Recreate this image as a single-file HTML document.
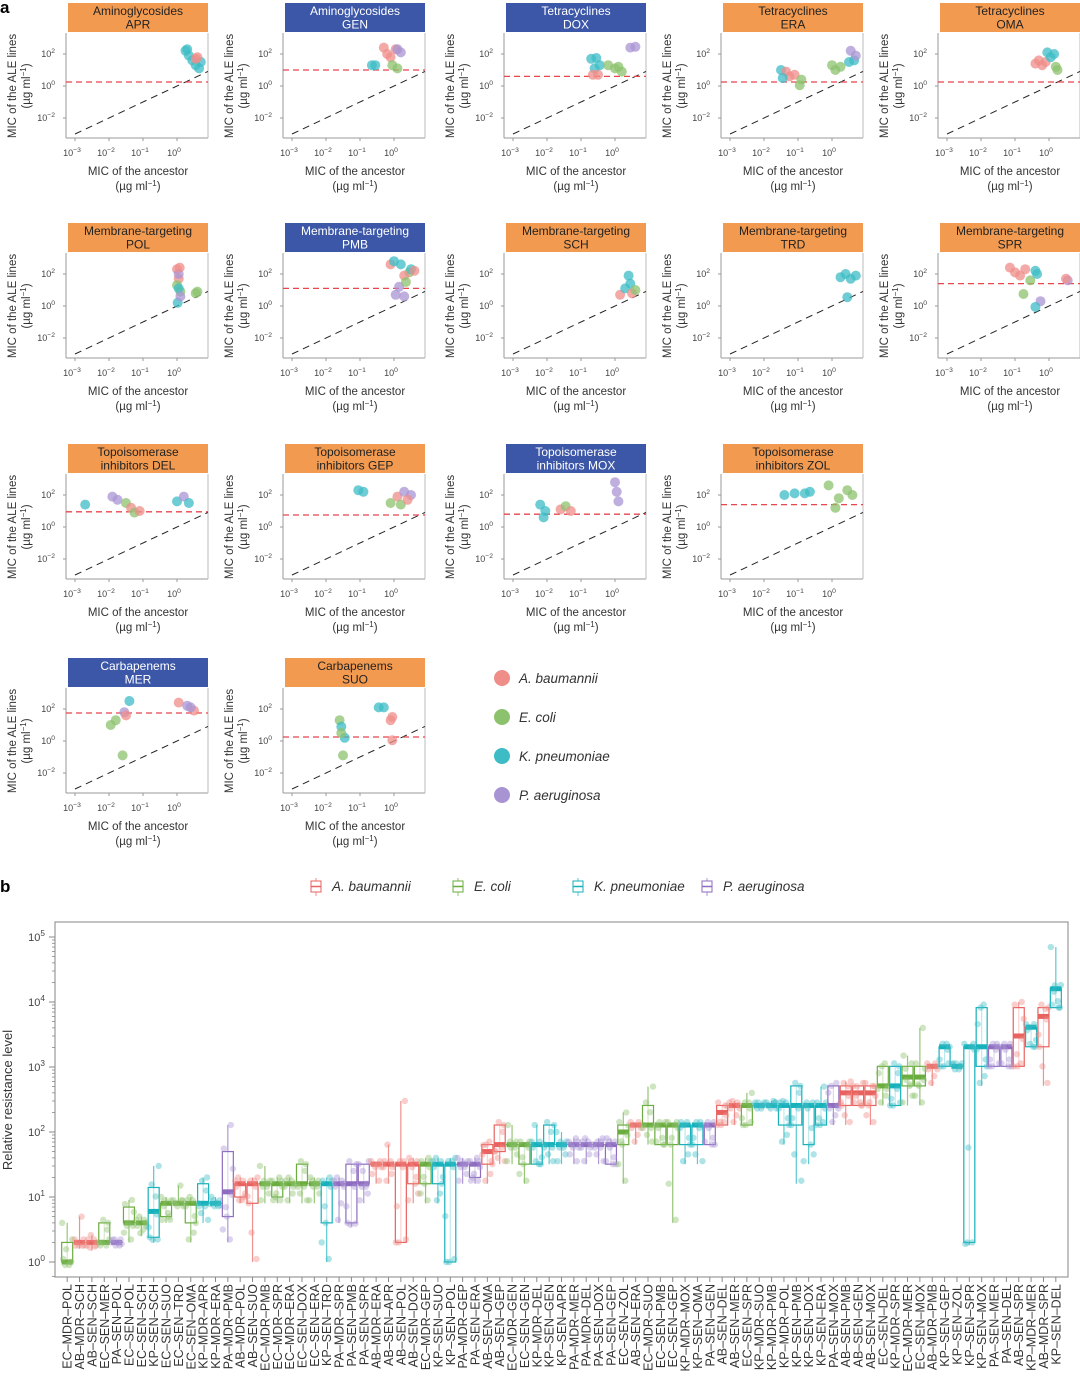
<!DOCTYPE html>
<html><head><meta charset="utf-8">
<style>
html,body{margin:0;padding:0;background:#fff;}
svg{display:block;font-family:"Liberation Sans",sans-serif;}
</style></head>
<body>
<svg id="fig" width="1080" height="1384" viewBox="0 0 1080 1384" xmlns="http://www.w3.org/2000/svg">
<text x="0" y="13" font-size="17" font-weight="bold">a</text>
<text x="0" y="892" font-size="17" font-weight="bold">b</text>
<g id="pa"></g>
<g id="pb"></g>
</svg>
<script>
// ---------- Panel a data ----------
const panelCodes = ["APR","GEN","DOX","ERA","OMA","POL","PMB","SCH","TRD","SPR","DEL","GEP","MOX","ZOL","MER","SUO"];
const panelClasses = ["Aminoglycosides","Aminoglycosides","Tetracyclines","Tetracyclines","Tetracyclines","Membrane-targeting","Membrane-targeting","Membrane-targeting","Membrane-targeting","Membrane-targeting","Topoisomerase inhibitors","Topoisomerase inhibitors","Topoisomerase inhibitors","Topoisomerase inhibitors","Carbapenems","Carbapenems"];
const panelBlue = [0,1,1,0,0,0,1,0,0,0,0,0,1,0,1,0];
const redLevels = [0.25,1.0,0.6,0.25,0.25,null,1.1,null,null,1.4,0.95,0.75,0.8,1.4,1.75,0.25];
// points per panel: [species, log10 ancestor MIC, log10 ALE MIC]; species: 0 AB,1 EC,2 KP,3 PA
const panelPoints = [
 [[2,0.25,2.2],[2,0.35,1.9],[2,0.45,1.6],[2,0.55,1.3],[2,0.65,1.1],[2,0.7,1.5],[2,0.3,2.3],[0,0.6,1.8],[0,0.55,1.7]],
 [[2,-0.65,1.3],[2,-0.55,1.3],[0,-0.3,2.4],[0,-0.2,2.0],[0,-0.1,1.8],[0,0.05,2.3],[3,0.2,2.1],[3,0.1,2.3],[1,0.1,1.1],[1,-0.05,1.3]],
 [[2,-0.7,1.7],[2,-0.55,1.75],[2,-0.45,1.3],[2,-0.6,1.1],[0,-0.65,0.7],[0,-0.5,0.7],[1,-0.2,1.3],[1,0,1.1],[1,0.2,0.9],[1,0.1,1.2],[3,0.45,2.4],[3,0.6,2.45]],
 [[2,-1.5,1.0],[0,-1.35,0.9],[0,-1.25,0.6],[2,-1.45,0.5],[0,-1.1,0.7],[1,-0.95,0.05],[1,-0.9,0.4],[1,0,1.3],[1,0.1,1.0],[1,0.25,1.2],[3,0.55,2.2],[2,0.65,1.6],[3,0.7,1.9],[2,0.5,1.5]],
 [[0,-0.4,1.4],[0,-0.3,1.6],[0,-0.2,1.3],[0,-0.1,1.5],[2,-0.05,2.1],[2,0.05,1.8],[2,0.15,2.0],[1,0.25,1.0],[1,0.2,1.2]],
 [[0,0,2.3],[0,0.05,1.7],[3,0.05,2.0],[1,0,1.3],[1,0.1,0.9],[2,0.05,1.1],[2,0.02,0.2],[3,0.1,0.6],[1,0.6,0.9],[1,0.55,0.8],[0,0.08,2.4]],
 [[0,-0.1,2.6],[2,0,2.8],[2,0.2,2.6],[1,0.45,2.1],[0,0.3,1.9],[3,0.05,0.7],[3,0.15,1.2],[1,0.35,1.5],[2,0.5,2.3],[0,0.6,2.2],[3,0.3,0.6]],
 [[0,0.15,0.7],[2,0.3,1.1],[2,0.45,1.4],[0,0.5,0.8],[1,0.6,1.0],[2,0.4,1.9]],
 [[2,0.25,1.8],[2,0.4,2.0],[2,0.55,1.7],[2,0.7,1.9],[2,0.45,0.55]],
 [[0,-1.15,2.4],[0,-1.0,2.1],[0,-0.85,1.9],[0,-0.7,2.3],[1,-0.55,1.6],[2,-0.4,2.2],[2,-0.35,2.0],[1,-0.75,0.75],[3,-0.25,0.3],[2,-0.4,-0.06],[3,0.55,1.6],[0,0.5,1.7]],
 [[2,-2.7,1.4],[3,-1.9,1.9],[3,-1.75,1.7],[1,-1.5,1.5],[0,-1.35,1.2],[1,-1.25,0.9],[0,-1.1,1.0],[2,0,1.6],[3,0.2,1.9],[2,0.35,1.5]],
 [[2,-1.05,2.3],[2,-0.9,2.2],[1,-0.1,1.5],[0,0.1,1.9],[3,0.3,2.2],[3,0.5,2.0],[1,0.2,1.4],[0,0.4,1.7]],
 [[2,-2.2,1.4],[2,-2.1,0.6],[2,-2.05,1.0],[0,-1.6,1.1],[1,-1.45,1.3],[0,-1.3,1.0],[3,0.0,2.8],[3,0.05,2.2],[3,0.1,1.6]],
 [[2,-1.4,2.0],[2,-1.1,2.1],[2,-0.8,2.1],[2,-0.65,2.2],[1,-0.1,2.6],[1,0.2,1.8],[1,0.45,2.3],[1,0.6,2.0],[1,0.1,1.2]],
 [[1,-1.95,1.0],[1,-1.8,1.3],[1,-1.6,-0.9],[3,-1.55,1.8],[2,-1.4,2.5],[0,-1.5,1.6],[0,0.05,2.4],[3,0.3,2.2],[0,0.5,1.9],[3,0.4,2.1]],
 [[1,-1.6,1.3],[2,-1.55,0.9],[1,-1.5,-0.9],[2,-1.45,0.2],[1,-1.55,0.5],[2,-0.45,2.1],[2,-0.3,2.1],[0,-0.1,1.3],[0,-0.05,1.5],[0,-0.05,0.05]]
];
const ptCol = ["#ef8d89","#8cc26d","#3dbcc6","#a994d3"];
const boxCol = ["#e8625f","#6aac3e","#16b1bb","#8e6cbf"];
const speciesNames = ["A. baumannii","E. coli","K. pneumoniae","P. aeruginosa"];

const NS="http://www.w3.org/2000/svg";
function mk(tag,attrs,parent){const e=document.createElementNS(NS,tag);for(const k in attrs)e.setAttribute(k,attrs[k]);parent.appendChild(e);return e;}
function supText(parent,x,y,base,exp,size,anchor){
  const t=mk("text",{x:x,y:y,"font-size":size,"text-anchor":anchor||"middle",fill:"#444"},parent);
  t.appendChild(document.createTextNode(base));
  const s=mk("tspan",{dy:-size*0.45,"font-size":size*0.75},t);s.textContent=exp;
  return t;
}
const pa=document.getElementById("pa");
const colX=[0,217,438,655,872], rowY=[0,220,441,655];
const gridPos=[[0,0],[0,1],[0,2],[0,3],[0,4],[1,0],[1,1],[1,2],[1,3],[1,4],[2,0],[2,1],[2,2],[2,3],[3,0],[3,1]];
panelCodes.forEach((code,i)=>{
  const ox=colX[gridPos[i][1]], oy=rowY[gridPos[i][0]];
  const g=mk("g",{transform:`translate(${ox},${oy})`},pa);
  
  
  const xs=lx=>177+34*lx, ys=ly=>86-16*ly;
  const h=mk("rect",{x:68,y:3,width:140,height:29,fill:panelBlue[i]?"#3c57a7":"#f29a4f"},g);
  
  
  const tc=panelBlue[i]?"#fff":"#222";
  let cls=panelClasses[i], l2=code;
  if(cls==="Topoisomerase inhibitors"){cls="Topoisomerase";l2="inhibitors "+code;}
  mk("text",{x:138,y:15,"font-size":12,"text-anchor":"middle",fill:tc},g).textContent=cls;
  mk("text",{x:138,y:28.5,"font-size":12,"text-anchor":"middle",fill:tc},g).textContent=l2;
  mk("line",{x1:66,y1:33,x2:66,y2:138,stroke:"#999","stroke-width":1},g);
  mk("line",{x1:66,y1:138,x2:208,y2:138,stroke:"#999","stroke-width":1},g);
  mk("line",{x1:208,y1:33,x2:208,y2:138,stroke:"#bbb","stroke-width":1},g);
  [-3,-2,-1,0].forEach(e=>{mk("line",{x1:xs(e),y1:138,x2:xs(e),y2:141,stroke:"#999"},g);supText(g,xs(e)-3,156,"10",String(e).replace("-","−"),9);});
  [2,0,-2].forEach(e=>{mk("line",{x1:63,y1:ys(e),x2:66,y2:ys(e),stroke:"#999"},g);supText(g,55,ys(e)+3,"10",String(e).replace("-","−"),9,"end");});
  const d=mk("line",{x1:xs(-3),y1:ys(-3),x2:208,y2:ys((208-177)/34),stroke:"#222","stroke-width":1,"stroke-dasharray":"7,5"},g);
  
  
  if(redLevels[i]!==null){
    const r=mk("line",{x1:66,y1:ys(redLevels[i]),x2:208,y2:ys(redLevels[i]),stroke:"#e8454d","stroke-width":1.3,"stroke-dasharray":"6,4"},g);
    
    
  }
  panelPoints[i].forEach(p=>{
    const c=mk("circle",{cx:xs(p[1]),cy:ys(p[2]),r:5,fill:ptCol[p[0]],"fill-opacity":0.75},g);
    
    
  });
  const yt=mk("text",{transform:"translate(16,86) rotate(-90)","font-size":11.5,"text-anchor":"middle",fill:"#333"},g);yt.textContent="MIC of the ALE lines";
  const yt2=mk("text",{transform:"translate(30,86) rotate(-90)","font-size":11.5,"text-anchor":"middle",fill:"#333"},g);
  yt2.appendChild(document.createTextNode("(µg ml"));let s=mk("tspan",{dy:-4,"font-size":8},yt2);s.textContent="−1";let s2=mk("tspan",{dy:4},yt2);s2.textContent=")";
  mk("text",{x:138,y:175,"font-size":11.5,"text-anchor":"middle",fill:"#333"},g).textContent="MIC of the ancestor";
  const xt2=mk("text",{x:138,y:190,"font-size":11.5,"text-anchor":"middle",fill:"#333"},g);
  xt2.appendChild(document.createTextNode("(µg ml"));s=mk("tspan",{dy:-4,"font-size":8},xt2);s.textContent="−1";s2=mk("tspan",{dy:4},xt2);s2.textContent=")";
});
speciesNames.forEach((n,i)=>{
  const y=678+i*39;
  const c=mk("circle",{cx:502,cy:y,r:8,fill:ptCol[i]},pa);
  
  
  const t=mk("text",{x:519,y:y+5,"font-size":13.5,"font-style":"italic",fill:"#333"},pa);
  t.textContent=n;
  
  
});

// ---------- Panel b data ----------
const categories=["EC-MDR-POL","AB-MDR-SCH","AB-SEN-SCH","EC-SEN-MER","PA-SEN-POL","EC-SEN-POL","EC-SEN-SCH","KP-SEN-SCH","EC-SEN-SUO","EC-SEN-TRD","EC-SEN-OMA","KP-MDR-APR","KP-MDR-ERA","PA-MDR-PMB","AB-MDR-POL","AB-SEN-SUO","EC-MDR-PMB","EC-MDR-SPR","EC-MDR-ERA","EC-SEN-DOX","EC-SEN-ERA","KP-SEN-TRD","PA-MDR-SPR","PA-SEN-PMB","PA-SEN-SPR","AB-MDR-ERA","AB-SEN-APR","AB-SEN-POL","AB-SEN-DOX","EC-MDR-GEP","KP-SEN-SUO","KP-SEN-POL","PA-MDR-GEP","PA-SEN-ERA","AB-SEN-OMA","AB-SEN-GEP","EC-MDR-GEN","EC-SEN-GEN","KP-MDR-DEL","KP-SEN-GEN","KP-SEN-APR","PA-MDR-MER","PA-MDR-DEL","PA-SEN-DOX","PA-SEN-GEP","EC-SEN-ZOL","AB-SEN-ERA","EC-MDR-SUO","EC-SEN-PMB","EC-SEN-GEP","KP-MDR-MOX","KP-SEN-OMA","PA-SEN-GEN","AB-SEN-DEL","AB-SEN-MER","EC-SEN-SPR","KP-MDR-SUO","KP-MDR-PMB","KP-MDR-POL","KP-SEN-PMB","KP-SEN-DOX","KP-SEN-ERA","PA-SEN-MOX","AB-SEN-PMB","AB-SEN-GEN","AB-SEN-MOX","EC-SEN-DEL","KP-MDR-SPR","EC-MDR-MER","EC-SEN-MOX","AB-MDR-PMB","KP-SEN-GEP","KP-SEN-ZOL","KP-SEN-SPR","KP-SEN-MOX","PA-SEN-MER","PA-SEN-DEL","AB-SEN-SPR","KP-MDR-MER","AB-MDR-SPR","KP-SEN-DEL"];
const medians=[1,2,2,2,2,4,4,6,8,8,8,8,8,12,16,16,16,16,16,16,16,16,16,16,16,32,32,32,32,32,32,32,32,32,50,64,64,64,64,64,64,64,64,64,64,100,128,128,128,128,128,128,128,200,256,256,256,256,256,256,256,256,256,400,400,400,512,512,700,700,1024,2048,1024,2048,2048,2048,2048,3000,4096,6000,16000];
const q1s=[1,2,2,2,2,4,4,2.4,5,8,4,8,8,5,10,8,16,10,16,16,16,4,16,4,16,32,32,2,16,16,16,1,32,20,32,50,64,32,32,64,64,64,64,64,32,64,128,128,64,64,64,64,64,128,256,128,256,256,128,128,64,128,256,256,256,256,512,256,512,512,1024,1024,1024,2,1024,1024,1024,1024,2048,2048,8192];
const q3s=[2,2,2,4,2,7,4,14,8,8,8,16,8,50,16,16,16,16,16,32,16,16,16,32,32,32,32,32,32,32,32,32,32,32,64,128,64,64,64,128,64,64,64,64,64,128,128,256,128,128,128,128,128,256,256,256,256,256,256,512,256,256,512,512,512,512,1024,1024,1024,1024,1024,2048,1024,2048,8192,2048,2048,8192,4096,8192,16384];
const lows=[1,1.6,1.5,2,1.8,2,2.5,2,4,8,2,4,7,2,8,1,8,8,8,8,8,1,4,3.5,8,16,16,2,8,8,8,1,16,16,16,32,32,16,32,32,32,32,32,32,32,16,64,64,64,4,32,32,64,128,128,128,256,256,64,16,32,128,128,128,256,128,256,256,256,256,512,1024,1024,1.8,512,1024,1024,1024,2048,512,8192];
const highs=[4,5,2.6,4,2.2,9,5,30,10,15,10,20,10,128,20,20,30,20,20,32,20,20,20,32,32,32,64,300,40,40,40,40,40,40,64,128,128,64,128,128,100,80,80,80,80,200,128,500,128,128,128,128,128,256,300,400,256,300,300,512,256,500,512,600,512,512,1024,1024,1500,4000,1024,2048,1100,2048,8192,2048,2048,10000,4096,8192,70000];
const yTicks=[0,1,2,3,4,5];

const pb=document.getElementById("pb");
const L=55,R=1068,T=922,B=1277;
const n=categories.length, step=(R-L-12)/n;
const xb=i=>L+6+step*(i+0.5);
const yb=v=>1262-65*Math.log10(v);
const spIdx={AB:0,EC:1,KP:2,PA:3};
const frame=mk("rect",{x:L,y:T,width:R-L,height:B-T,fill:"none",stroke:"#999","stroke-width":1.2},pb);


yTicks.forEach(e=>{
  mk("line",{x1:L-6,y1:yb(Math.pow(10,e)),x2:L,y2:yb(Math.pow(10,e)),stroke:"#888"},pb);
  for(let m=2;m<10&&e<5;m++){const v=m*Math.pow(10,e);mk("line",{x1:L-3,y1:yb(v),x2:L,y2:yb(v),stroke:"#888","stroke-width":0.8},pb);}
  const t=supText(pb,L-10,yb(Math.pow(10,e))+4,"10",String(e),11,"end");
  
  
});
mk("line",{x1:L-3,y1:yb(0.6),x2:L,y2:yb(0.6),stroke:"#888","stroke-width":0.8},pb);
const yl=mk("text",{transform:`translate(12,1100) rotate(-90)`,"font-size":13,"text-anchor":"middle",fill:"#333"},pb);
yl.textContent="Relative resistance level";


const jit=[-4,3,-2,5,-5,2,-1,4];
categories.forEach((cat,i)=>{
  const sp=spIdx[cat.slice(0,2)], x=xb(i), w=11;
  const g=mk("g",{},pb);
  
  
  mk("line",{x1:x,y1:yb(lows[i]),x2:x,y2:yb(highs[i]),stroke:boxCol[sp],"stroke-width":1.2,"stroke-opacity":0.7},g);
  mk("rect",{x:x-w/2,y:yb(q3s[i]),width:w,height:Math.max(0.1,yb(q1s[i])-yb(q3s[i])),fill:"#fff","fill-opacity":0.6,stroke:boxCol[sp],"stroke-width":1.2},g);
  mk("rect",{x:x-w/2,y:yb(medians[i])-2.5,width:w,height:5,fill:boxCol[sp]},g);
  const vals=[lows[i],q1s[i],medians[i],q3s[i],highs[i],Math.sqrt(q1s[i]*medians[i]),Math.sqrt(q3s[i]*medians[i]),Math.sqrt(lows[i]*q1s[i])];
  vals.forEach((v,k)=>{
    const c=mk("circle",{cx:x+jit[(k+i)%8],cy:yb(v)+((k%3)-1)*3,r:3.2,fill:ptCol[sp],"fill-opacity":0.42},g);
    
    
  });
  mk("line",{x1:x,y1:B,x2:x,y2:B+5,stroke:"#888"},pb);
  const t=mk("text",{transform:`translate(${x+4.5},${B+7}) rotate(-90)`,"font-size":12.5,"text-anchor":"end",fill:"#333"},pb);
  t.textContent=cat.replace(/-/g,"\u2013");
  
  
});
const lgx=[316,458,578,707];
speciesNames.forEach((nm,i)=>{
  const g=mk("g",{},pb);
  
  
  mk("line",{x1:lgx[i],y1:878,x2:lgx[i],y2:896,stroke:boxCol[i],"stroke-opacity":0.7},g);
  mk("rect",{x:lgx[i]-5,y:881,width:10,height:11,fill:"#fff",stroke:boxCol[i]},g);
  mk("line",{x1:lgx[i]-5,y1:886.5,x2:lgx[i]+5,y2:886.5,stroke:boxCol[i],"stroke-width":1.5},g);
  mk("text",{x:lgx[i]+16,y:891,"font-size":13.5,"font-style":"italic",fill:"#333"},g).textContent=nm;
});
</script>
</body></html>
